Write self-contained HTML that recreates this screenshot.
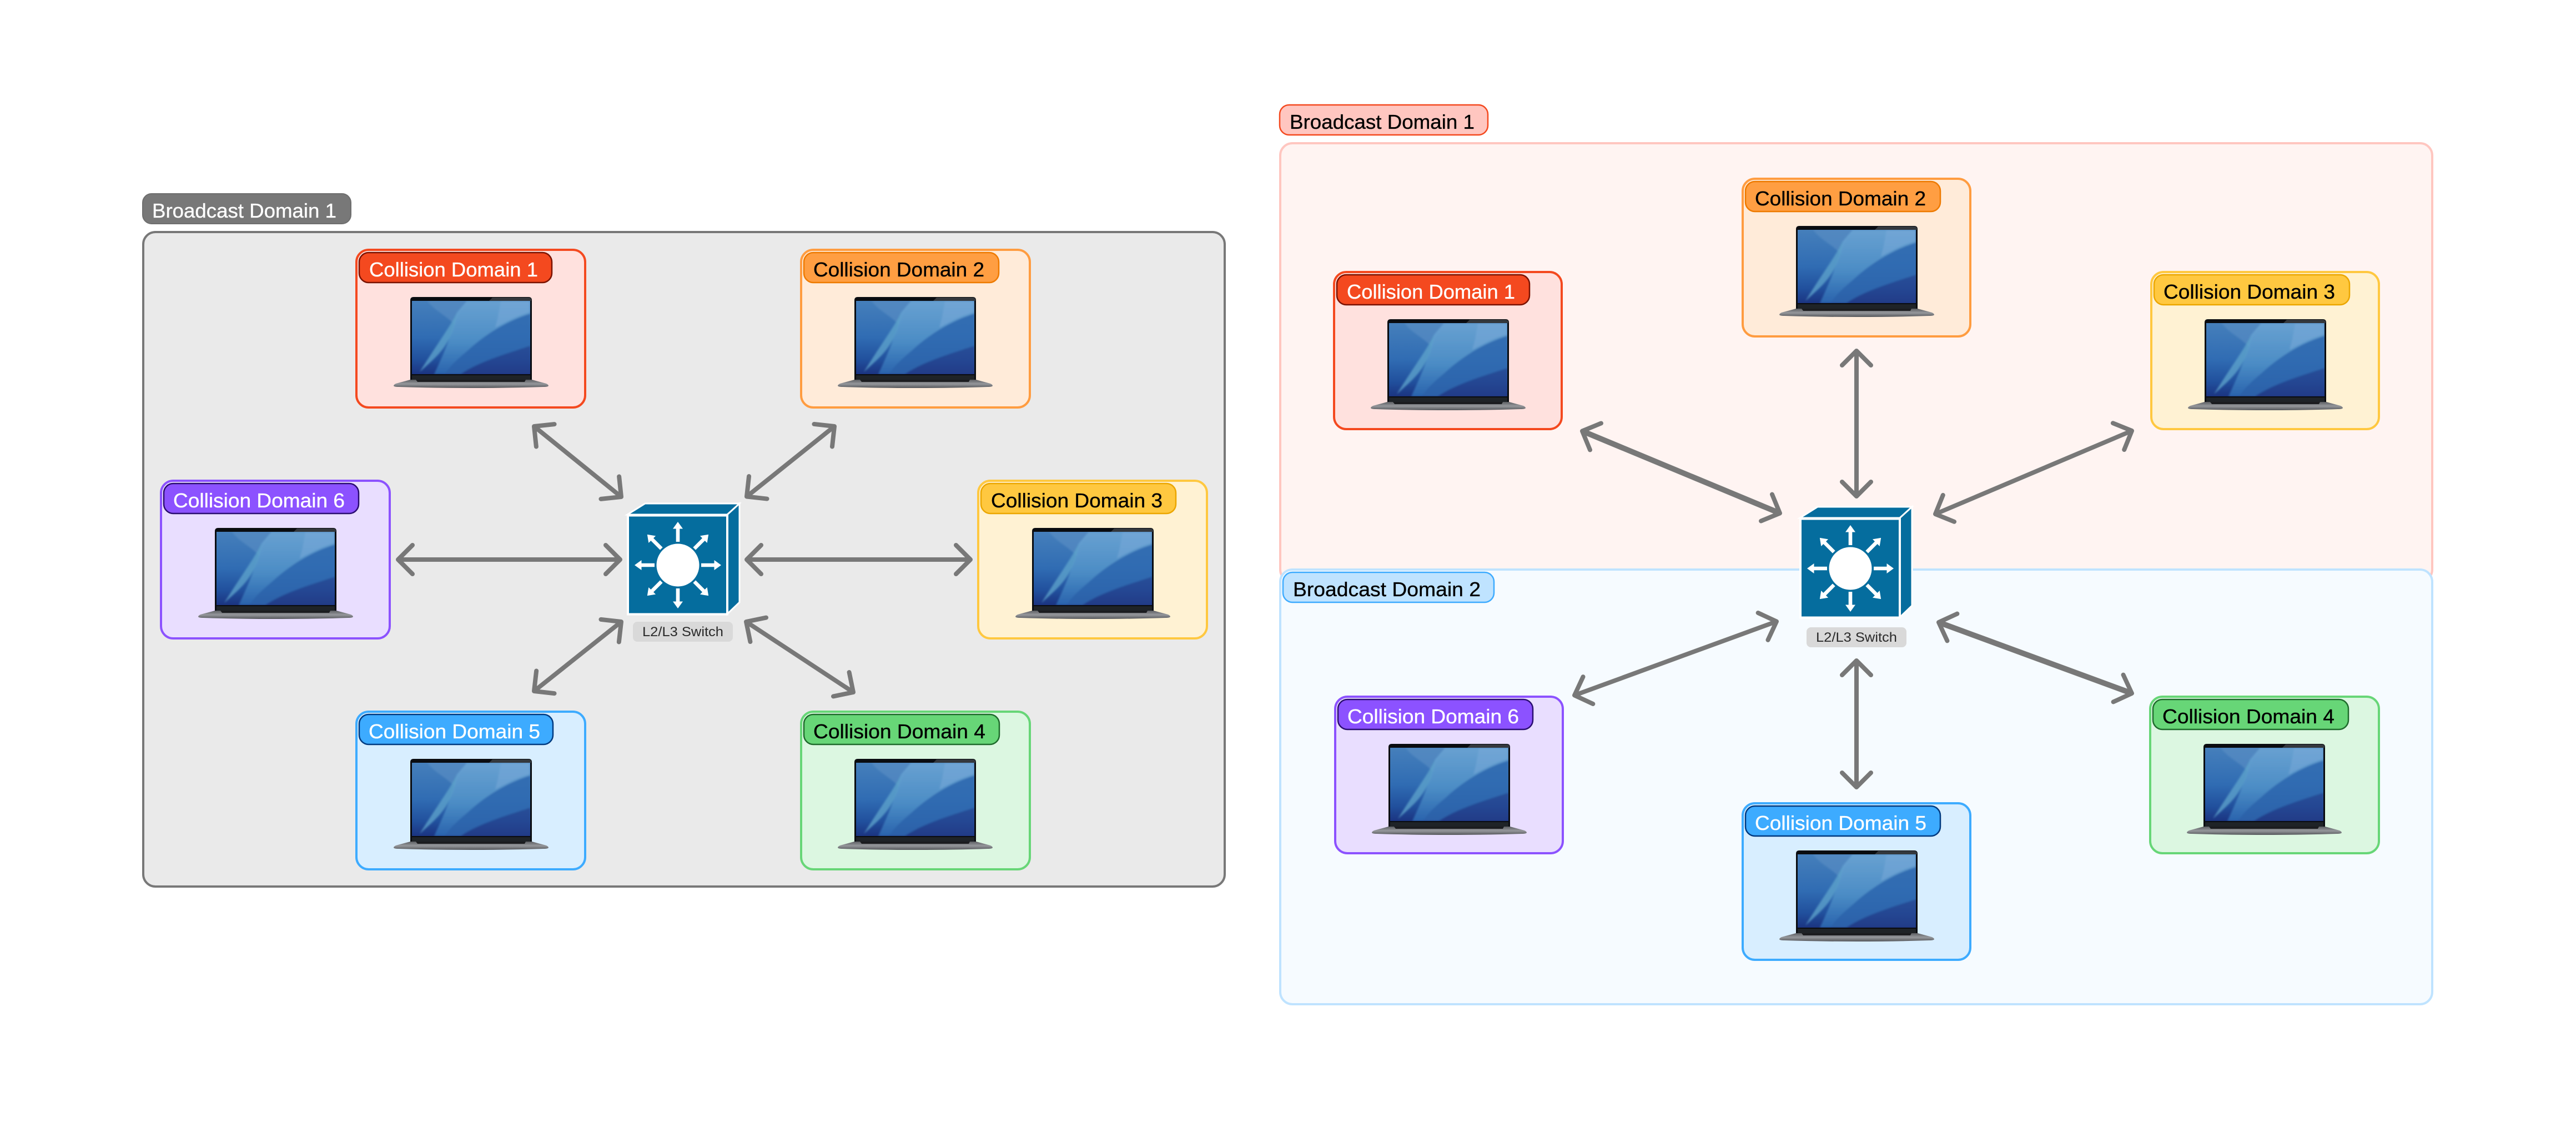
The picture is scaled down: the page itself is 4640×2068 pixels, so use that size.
<!DOCTYPE html>
<html lang="en">
<head>
<meta charset="utf-8">
<title>Broadcast and Collision Domains</title>
<style>
html,body{margin:0;padding:0;background:#fff;width:4640px;height:2068px;overflow:hidden}
svg{display:block}
text{font-family:"Liberation Sans",sans-serif}
.t{font-size:36px;stroke-width:.35px}
.w{fill:#fff;stroke:#fff}
.k{fill:#000;stroke:#000}
.ar{stroke:#787878;stroke-width:8;fill:none;marker-start:url(#ah);marker-end:url(#ah)}
.th{stroke-width:10}
</style>
</head>
<body>
<svg xmlns="http://www.w3.org/2000/svg" width="4640" height="2068" viewBox="0 0 4640 2068">
<defs>
<marker id="ah" markerUnits="userSpaceOnUse" markerWidth="80" markerHeight="80" refX="40" refY="40" orient="auto-start-reverse" overflow="visible">
<path d="M14,14 L40,40 L14,66" fill="none" stroke="#787878" stroke-width="8" stroke-linecap="round" stroke-linejoin="round"/>
</marker>
<linearGradient id="wall" x1="0" y1="0" x2="0" y2="1">
<stop offset="0" stop-color="#457fbb"/><stop offset=".5" stop-color="#306cb3"/><stop offset=".8" stop-color="#21509d"/><stop offset="1" stop-color="#1b3481"/>
</linearGradient>
<linearGradient id="lite" x1="0" y1="0" x2="0" y2="1">
<stop offset="0" stop-color="#6ca5d4"/><stop offset=".55" stop-color="#4f91c8"/><stop offset="1" stop-color="#2c69b2"/>
</linearGradient>
<linearGradient id="base" x1="0" y1="0" x2="0" y2="1">
<stop offset="0" stop-color="#5c5e62"/><stop offset=".5" stop-color="#96989c"/><stop offset="1" stop-color="#55575b"/>
</linearGradient>
<filter id="soft" x="-5%" y="-5%" width="110%" height="110%"><feGaussianBlur stdDeviation="1.6"/></filter>
<clipPath id="scr"><rect x="0" y="0" width="213" height="132"/></clipPath>
<g id="lap">
<path d="M30,149 V6 Q30,0 36,0 H243 Q249,0 249,6 V149 Z" fill="#0a0c10"/>
<path d="M178,1 H243 Q248,1 248,6 V7 H172 Z" fill="#34383d"/>
<rect x="33" y="7" width="213" height="132" fill="url(#wall)"/>
<g transform="translate(33,7)" clip-path="url(#scr)">
<g filter="url(#soft)">
<path d="M28,0 H99 C90,14 84,22 78,45 C66,28 40,18 28,0 Z" fill="#5a8fc4" opacity=".6"/>
<path d="M99,0 H213 V23 C170,36 130,62 100,90 C85,103 70,115 60,132 H40 C50,110 70,70 81,21 Z" fill="url(#lite)" opacity=".9"/>
<path d="M213,23 V81 C170,95 120,110 88,132 H60 C70,115 85,103 100,90 C130,62 170,36 213,23 Z" fill="#2f6cb2" opacity=".8"/>
<path d="M81,21 C70,45 45,78 14,128 C44,100 72,82 81,21 Z" fill="#5fa6cc" opacity=".75"/>
<path d="M160,0 H213 V20 C190,26 175,35 150,48 C155,30 157,20 160,0 Z" fill="#78a9d9" opacity=".55"/>
<path d="M213,81 V132 H88 C120,110 170,95 213,81 Z" fill="#23408c" opacity=".6"/>
</g>
</g>
<rect x="33" y="141" width="213" height="8" fill="#1f2327"/>
<path d="M30,149 H249 L275,156 Q279,158 279,160 Q278,162 270,162 Q210,164 140,164 Q70,164 9,162 Q1,162 0,160 Q0,158 4,156 Z" fill="url(#base)"/>
<path d="M40,149 H238 L236,153 H43 Z" fill="#1b1c1f"/>
</g>
<g id="sw">
<path d="M1130,927 L1162,907 H1332 L1310,927 Z" fill="#056d9e" stroke="#fff" stroke-width="3"/>
<path d="M1310,927 L1332,907 V1085 L1310,1106 Z" fill="#056d9e" stroke="#fff" stroke-width="3"/>
<rect x="1131" y="928.5" width="179" height="178" fill="#056d9e" stroke="#fff" stroke-width="4"/>
<circle cx="1221" cy="1018" r="38.5" fill="#fff"/>
<g fill="#fff">
<path d="M1217.7,976 V952.5 H1212 L1221,940 L1230,952.5 H1224.3 V976 Z"/>
<path d="M1217.7,976 V952.5 H1212 L1221,940 L1230,952.5 H1224.3 V976 Z" transform="rotate(45 1221 1018)"/>
<path d="M1217.7,976 V952.5 H1212 L1221,940 L1230,952.5 H1224.3 V976 Z" transform="rotate(90 1221 1018)"/>
<path d="M1217.7,976 V952.5 H1212 L1221,940 L1230,952.5 H1224.3 V976 Z" transform="rotate(135 1221 1018)"/>
<path d="M1217.7,976 V952.5 H1212 L1221,940 L1230,952.5 H1224.3 V976 Z" transform="rotate(180 1221 1018)"/>
<path d="M1217.7,976 V952.5 H1212 L1221,940 L1230,952.5 H1224.3 V976 Z" transform="rotate(225 1221 1018)"/>
<path d="M1217.7,976 V952.5 H1212 L1221,940 L1230,952.5 H1224.3 V976 Z" transform="rotate(270 1221 1018)"/>
<path d="M1217.7,976 V952.5 H1212 L1221,940 L1230,952.5 H1224.3 V976 Z" transform="rotate(315 1221 1018)"/>
</g>
</g>
</defs>

<rect width="4640" height="2068" fill="#fff"/>

<!-- LEFT DIAGRAM -->
<rect x="258" y="418" width="1948" height="1179" rx="22" fill="#eaeaea" stroke="#787878" stroke-width="4"/>
<rect x="257" y="349" width="375" height="54" rx="16" fill="#787878" stroke="#6e6e6e" stroke-width="2"/>
<text class="t w" x="274" y="392" textLength="332" lengthAdjust="spacingAndGlyphs">Broadcast Domain 1</text>

<g transform="translate(640,448)">
<rect x="2" y="2" width="412" height="284" rx="22" fill="#ffe1de" stroke="#f4491f" stroke-width="4"/>
<rect x="7" y="7" width="347" height="54" rx="17" fill="#f4491f" stroke="#7a1200" stroke-width="2.5"/>
<text class="t w" x="25" y="50" textLength="304" lengthAdjust="spacingAndGlyphs">Collision Domain 1</text>
<use href="#lap" x="69" y="87"/>
</g>
<g transform="translate(1441,448)">
<rect x="2" y="2" width="412" height="284" rx="22" fill="#ffebd9" stroke="#ff9c40" stroke-width="4"/>
<rect x="7" y="7" width="351" height="54" rx="17" fill="#ff9e42" stroke="#ee7a00" stroke-width="2.5"/>
<text class="t k" x="24" y="50" textLength="308" lengthAdjust="spacingAndGlyphs">Collision Domain 2</text>
<use href="#lap" x="68" y="87"/>
</g>
<g transform="translate(1760,864)">
<rect x="2" y="2" width="412" height="284" rx="22" fill="#fff2d3" stroke="#ffc840" stroke-width="4"/>
<rect x="7" y="7" width="351" height="54" rx="17" fill="#ffc840" stroke="#eba600" stroke-width="2.5"/>
<text class="t k" x="25" y="50" textLength="309" lengthAdjust="spacingAndGlyphs">Collision Domain 3</text>
<use href="#lap" x="69" y="87"/>
</g>
<g transform="translate(1441,1280)">
<rect x="2" y="2" width="412" height="284" rx="22" fill="#dcf7e1" stroke="#67d677" stroke-width="4"/>
<rect x="7" y="7" width="352" height="54" rx="17" fill="#67d677" stroke="#1f6b2c" stroke-width="2.5"/>
<text class="t k" x="24" y="50" textLength="310" lengthAdjust="spacingAndGlyphs">Collision Domain 4</text>
<use href="#lap" x="68" y="87"/>
</g>
<g transform="translate(640,1280)">
<rect x="2" y="2" width="412" height="284" rx="22" fill="#d8eeff" stroke="#3dabff" stroke-width="4"/>
<rect x="7" y="7" width="349" height="54" rx="17" fill="#3dabff" stroke="#003a80" stroke-width="2.5"/>
<text class="t w" x="24" y="50" textLength="309" lengthAdjust="spacingAndGlyphs">Collision Domain 5</text>
<use href="#lap" x="69" y="87"/>
</g>
<g transform="translate(288,864)">
<rect x="2" y="2" width="412" height="284" rx="22" fill="#e9deff" stroke="#8c52ff" stroke-width="4"/>
<rect x="7" y="7" width="351" height="54" rx="17" fill="#8c52ff" stroke="#2a0d70" stroke-width="2.5"/>
<text class="t w" x="24" y="50" textLength="309" lengthAdjust="spacingAndGlyphs">Collision Domain 6</text>
<use href="#lap" x="69" y="87"/>
</g>

<use href="#sw"/>
<rect x="1140" y="1120" width="180" height="36" rx="8" fill="#d9d9d9"/>
<text x="1157" y="1146" font-size="24" fill="#2a2a2a" textLength="146" lengthAdjust="spacingAndGlyphs">L2/L3 Switch</text>

<line class="ar" x1="962" y1="768" x2="1119" y2="895"/>
<line class="ar" x1="1503" y1="768" x2="1345" y2="894.5"/>
<line class="ar" x1="717" y1="1008" x2="1117" y2="1008"/>
<line class="ar" x1="1345" y1="1008" x2="1748" y2="1008"/>
<line class="ar" x1="1119" y1="1120" x2="962" y2="1245"/>
<line class="ar" x1="1344" y1="1120" x2="1537" y2="1247"/>

<!-- RIGHT DIAGRAM -->
<rect x="2306" y="258" width="2075" height="790" rx="22" fill="#fff4f2" stroke="#ffc6c0" stroke-width="4"/>
<rect x="2305" y="189" width="375" height="54" rx="17" fill="#ffc6c0" stroke="#f4491f" stroke-width="2.5"/>
<text class="t k" x="2323" y="232" textLength="333" lengthAdjust="spacingAndGlyphs">Broadcast Domain 1</text>

<rect x="2306" y="1026" width="2075" height="783" rx="22" fill="#f6fbff" stroke="#bfe3ff" stroke-width="4"/>
<rect x="2311" y="1031" width="380" height="54" rx="17" fill="#bfe3ff" stroke="#3dabff" stroke-width="2.5"/>
<text class="t k" x="2329" y="1074" textLength="338" lengthAdjust="spacingAndGlyphs">Broadcast Domain 2</text>

<g transform="translate(2401,488)">
<rect x="2" y="2" width="410" height="283" rx="22" fill="#ffe1de" stroke="#f4491f" stroke-width="4"/>
<rect x="7" y="7" width="347" height="54" rx="17" fill="#f4491f" stroke="#7a1200" stroke-width="2.5"/>
<text class="t w" x="25" y="50" textLength="303" lengthAdjust="spacingAndGlyphs">Collision Domain 1</text>
<use href="#lap" x="68" y="87"/>
</g>
<g transform="translate(3137,320)">
<rect x="2" y="2" width="410" height="284" rx="22" fill="#ffebd9" stroke="#ff9c40" stroke-width="4"/>
<rect x="7" y="7" width="351" height="54" rx="17" fill="#ff9e42" stroke="#ee7a00" stroke-width="2.5"/>
<text class="t k" x="24" y="50" textLength="308" lengthAdjust="spacingAndGlyphs">Collision Domain 2</text>
<use href="#lap" x="68" y="87"/>
</g>
<g transform="translate(3873,488)">
<rect x="2" y="2" width="410" height="283" rx="22" fill="#fff2d3" stroke="#ffc840" stroke-width="4"/>
<rect x="7" y="7" width="352" height="54" rx="17" fill="#ffc840" stroke="#eba600" stroke-width="2.5"/>
<text class="t k" x="24" y="50" textLength="309" lengthAdjust="spacingAndGlyphs">Collision Domain 3</text>
<use href="#lap" x="68" y="87"/>
</g>
<g transform="translate(3871,1253)">
<rect x="2" y="2" width="412" height="282" rx="22" fill="#dcf7e1" stroke="#67d677" stroke-width="4"/>
<rect x="7" y="7" width="352" height="54" rx="17" fill="#67d677" stroke="#1f6b2c" stroke-width="2.5"/>
<text class="t k" x="24" y="50" textLength="310" lengthAdjust="spacingAndGlyphs">Collision Domain 4</text>
<use href="#lap" x="68" y="87"/>
</g>
<g transform="translate(3137,1445)">
<rect x="2" y="2" width="410" height="282" rx="22" fill="#d8eeff" stroke="#3dabff" stroke-width="4"/>
<rect x="7" y="7" width="351" height="54" rx="17" fill="#3dabff" stroke="#003a80" stroke-width="2.5"/>
<text class="t w" x="24" y="50" textLength="309" lengthAdjust="spacingAndGlyphs">Collision Domain 5</text>
<use href="#lap" x="68" y="87"/>
</g>
<g transform="translate(2403,1253)">
<rect x="2" y="2" width="410" height="282" rx="22" fill="#e9deff" stroke="#8c52ff" stroke-width="4"/>
<rect x="7" y="7" width="351" height="54" rx="17" fill="#8c52ff" stroke="#2a0d70" stroke-width="2.5"/>
<text class="t w" x="24" y="50" textLength="309" lengthAdjust="spacingAndGlyphs">Collision Domain 6</text>
<use href="#lap" x="68" y="87"/>
</g>

<g transform="translate(2112,6)"><use href="#sw"/></g>
<rect x="3254" y="1130" width="180" height="36" rx="8" fill="#d9d9d9"/>
<text x="3271" y="1156" font-size="24" fill="#2a2a2a" textLength="146" lengthAdjust="spacingAndGlyphs">L2/L3 Switch</text>

<line class="ar th" x1="2850" y1="776.5" x2="3206" y2="924.5"/>
<line class="ar" x1="3344" y1="632" x2="3344" y2="894"/>
<line class="ar" x1="3840" y1="776" x2="3486" y2="926"/>
<line class="ar th" x1="3492" y1="1121" x2="3840" y2="1249"/>
<line class="ar" x1="3344" y1="1190" x2="3344" y2="1418"/>
<line class="ar" x1="3200" y1="1119.5" x2="2836" y2="1252.5"/>
</svg>
</body>
</html>
